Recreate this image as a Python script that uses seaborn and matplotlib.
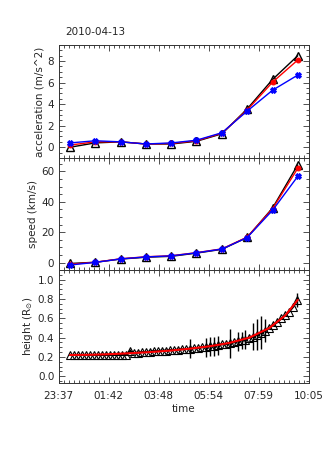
import numpy as np
import pandas as pd
import seaborn as sns
import matplotlib
matplotlib.use("Agg")
import matplotlib.pyplot as plt
from matplotlib.ticker import AutoMinorLocator

# minutes after 23:37
t_fit = [29, 92, 156, 219, 283, 346, 410, 473, 537, 600]
acc_black = [0.0, 0.4, 0.5, 0.3, 0.3, 0.55, 1.25, 3.55, 6.3, 8.5]
acc_red = [0.2, 0.5, 0.5, 0.3, 0.35, 0.6, 1.3, 3.45, 6.05, 8.1]
acc_blue = [0.4, 0.6, 0.5, 0.3, 0.4, 0.65, 1.35, 3.35, 5.3, 6.7]
spd_black = [-0.5, 0.3, 2.4, 3.6, 4.2, 6.3, 8.8, 16.6, 36.0, 64.3]
spd_red = [-1.0, 0.3, 2.6, 3.9, 4.6, 6.6, 9.1, 16.8, 35.5, 62.0]
spd_blue = [-1.5, 0.2, 2.5, 3.8, 4.5, 6.5, 9.0, 16.5, 34.5, 56.7]

t_h = list(range(29, 600, 10))
height = [0.22, 0.22, 0.22, 0.22, 0.22, 0.22, 0.22, 0.22, 0.22, 0.22,
          0.22, 0.22, 0.22, 0.22, 0.22, 0.26, 0.24, 0.245, 0.25, 0.25,
          0.255, 0.26, 0.26, 0.265, 0.265, 0.27, 0.27, 0.275, 0.28, 0.28,
          0.285, 0.29, 0.29, 0.30, 0.30, 0.31, 0.31, 0.32, 0.33, 0.33,
          0.34, 0.35, 0.36, 0.37, 0.38, 0.40, 0.41, 0.43, 0.45, 0.47,
          0.50, 0.53, 0.56, 0.60, 0.63, 0.67, 0.72, 0.79]
h_err = [0, 0, 0, 0, 0, 0, 0, 0, 0, 0,
         0, 0, 0, 0, 0, 0.02, 0, 0, 0, 0,
         0, 0, 0, 0, 0, 0, 0, 0, 0, 0,
         0.10, 0, 0, 0, 0.10, 0.10, 0.10, 0.10, 0, 0,
         0.15, 0, 0.10, 0.09, 0.10, 0, 0.14, 0.16, 0.17, 0.12,
         0, 0, 0, 0, 0, 0, 0, 0.07]
t_line = [29, 79, 129, 179, 229, 279, 329, 379, 429, 479, 529, 569, 600]
h_line = [0.22, 0.222, 0.228, 0.238, 0.25, 0.265, 0.285, 0.31, 0.345, 0.40, 0.50, 0.63, 0.79]

tick_pos = [0, 125.6, 251.2, 376.8, 502.4, 628]
tick_lab = ["23:37", "01:42", "03:48", "05:54", "07:59", "10:05"]

sns.set_style("ticks")
plt.rcParams["font.family"] = ["DejaVu Sans"]
plt.rcParams["font.size"] = 7.5

fig = plt.figure(figsize=(3.26, 4.51), dpi=100)
left, width = 0.1795, 0.768
ax1 = fig.add_axes([left, 0.6497, width, 0.2506])
ax2 = fig.add_axes([left, 0.4013, width, 0.2483])
ax3 = fig.add_axes([left, 0.1508, width, 0.2506])


def style(ax, ylim, yticks, ylabel):
    ax.set_xlim(0, 628)
    ax.set_ylim(*ylim)
    ax.set_xticks(tick_pos)
    ax.set_yticks(yticks)
    ax.xaxis.set_minor_locator(AutoMinorLocator(10))
    ax.yaxis.set_minor_locator(AutoMinorLocator(4))
    ax.tick_params(which="both", direction="in", top=True, right=True,
                   labelsize=7.5, width=0.6, color="#333333", pad=3)
    ax.tick_params(which="major", length=4)
    ax.tick_params(which="minor", length=2)
    for s in ax.spines.values():
        s.set_linewidth(0.7)
        s.set_color("#333333")
    ax.set_ylabel(ylabel, fontsize=7.5, labelpad=2)
    ax.set_xlabel("")


def three(ax, yb, yr, yl):
    df = pd.DataFrame({"t": t_fit, "b": yb, "r": yr, "l": yl})
    sns.lineplot(data=df, x="t", y="b", ax=ax, color="black", lw=1.0,
                 marker="^", markersize=6, markerfacecolor="none",
                 markeredgecolor="black", markeredgewidth=1.0)
    sns.lineplot(data=df, x="t", y="r", ax=ax, color="red", lw=1.0,
                 marker="o", markersize=3.5, markeredgecolor="red")
    sns.lineplot(data=df, x="t", y="l", ax=ax, color="blue", lw=1.0,
                 marker="X", markersize=4, markeredgecolor="blue")


three(ax1, acc_black, acc_red, acc_blue)
style(ax1, (-1, 9.5), [0, 2, 4, 6, 8], "acceleration (m/s^2)")
ax1.set_xticklabels([])

three(ax2, spd_black, spd_red, spd_blue)
style(ax2, (-4.8, 68.8), [0, 20, 40, 60], "speed (km/s)")
ax2.set_xticklabels([])

ax3.errorbar(t_h, height, yerr=h_err, fmt="none", ecolor="black", elinewidth=1.0)
sns.lineplot(x=t_h, y=height, ax=ax3, color="black", lw=1.5,
             marker="^", markersize=5.5, markerfacecolor="none",
             markeredgecolor="black", markeredgewidth=0.8)
sns.lineplot(x=t_line, y=h_line, ax=ax3, color="red", lw=1.5)
style(ax3, (-0.07, 1.1), [0.0, 0.2, 0.4, 0.6, 0.8, 1.0], r"height (R$_{\odot}$)")
ax3.set_xticklabels(tick_lab)
ax3.tick_params(axis="x", pad=6)
ax3.set_xlabel("time", fontsize=7.5, labelpad=2)

fig.text(0.2, 0.918, "2010-04-13", fontsize=7.5, ha="left", va="bottom")

fig.savefig("out.png", dpi=100, facecolor="white")
